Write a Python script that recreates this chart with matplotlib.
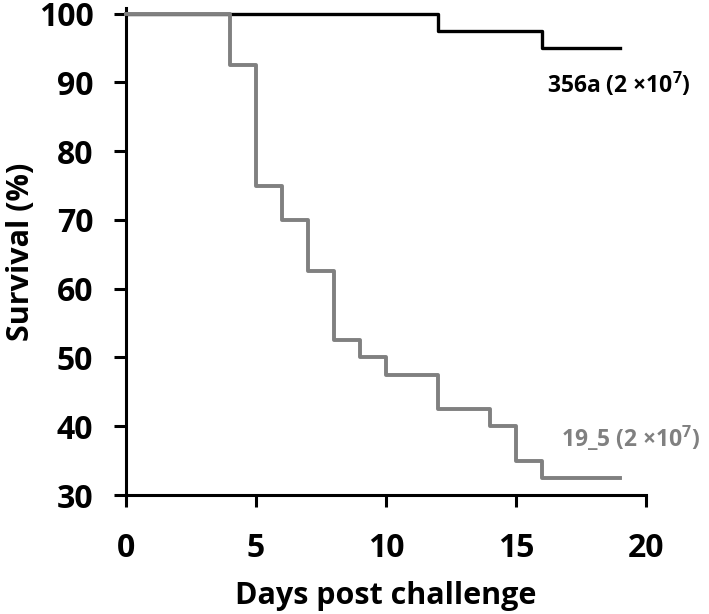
import matplotlib
matplotlib.use('Agg')
import matplotlib.pyplot as plt

# survival data (Kaplan-Meier style steps)
days_356a = [0, 12, 16, 19]
surv_356a = [100, 97.5, 95, 95]

days_19_5 = [0, 4, 5, 6, 7, 8, 9, 10, 12, 14, 15, 16, 19]
surv_19_5 = [100, 92.5, 75, 70, 62.5, 52.5, 50, 47.5, 42.5, 40, 35, 32.5, 32.5]

label_356a = '356a (2 $\\times$10$^7$)'
label_19_5 = '19_5 (2 $\\times$10$^7$)'

x_ticks = [0, 5, 10, 15, 20]
y_ticks = [30, 40, 50, 60, 70, 80, 90, 100]

font = 'Open Sans'
plt.rcParams['font.family'] = [font, 'DejaVu Sans']
plt.rcParams['font.weight'] = 'bold'
plt.rcParams['mathtext.fontset'] = 'custom'
plt.rcParams['mathtext.rm'] = font + ':bold'
plt.rcParams['mathtext.it'] = font + ':bold'
plt.rcParams['mathtext.bf'] = font + ':bold'

gray = '#808080'

fig = plt.figure(figsize=(7.09, 6.14), dpi=100)
ax = fig.add_axes([0.1777, 0.1938, 0.7334, 0.793])

ax.step(days_356a, surv_356a, where='post', color='black', lw=2.4, clip_on=False, zorder=3)
ax.step(days_19_5, surv_19_5, where='post', color=gray, lw=2.8, clip_on=False, zorder=4)

ax.text(16.2, 89.7, label_356a, color='black', fontsize=16.5, fontweight='bold', va='center', ha='left')
ax.text(16.75, 38.2, label_19_5, color=gray, fontsize=16.5, fontweight='bold', va='center', ha='left')

ax.set_xlim(0, 20)
ax.set_ylim(30, 100.8)
ax.set_xticks(x_ticks)
ax.set_yticks(y_ticks)

for side in ['top', 'right']:
    ax.spines[side].set_visible(False)
for side in ['left', 'bottom']:
    ax.spines[side].set_linewidth(2.2)

ax.tick_params(axis='both', direction='out', length=8.5, width=2.2, labelsize=23)
ax.tick_params(axis='x', pad=18)
ax.tick_params(axis='y', pad=15)
for lbl in ax.get_xticklabels() + ax.get_yticklabels():
    lbl.set_fontweight('bold')

ax.set_xlabel('Days post challenge', fontsize=22, fontweight='bold', labelpad=12)
ax.set_ylabel('Survival (%)', fontsize=22, fontweight='bold', labelpad=2)

fig.savefig('out.png', dpi=100)
